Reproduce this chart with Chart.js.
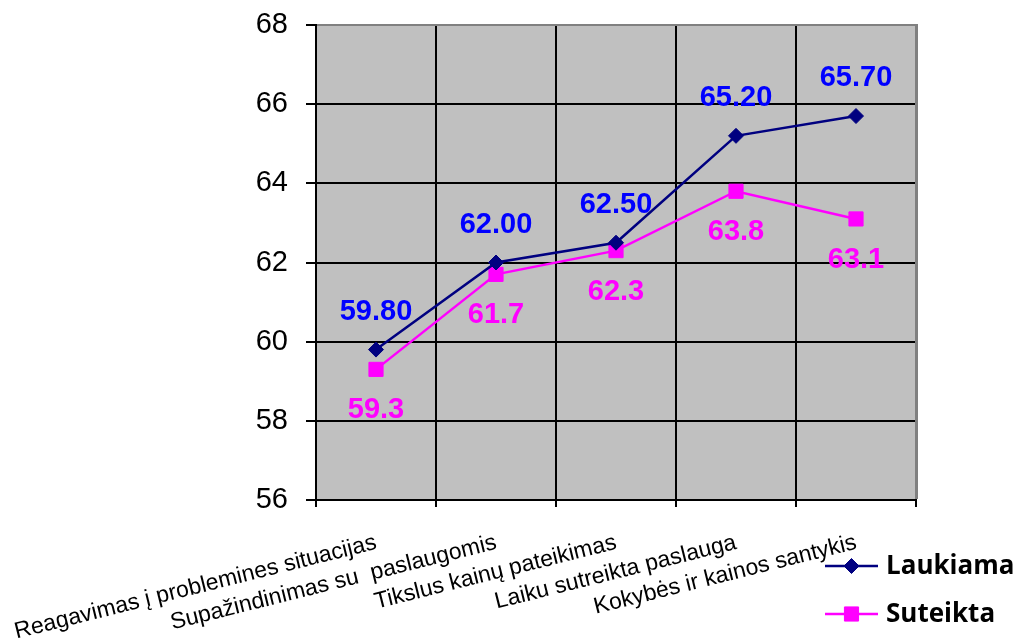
<!DOCTYPE html>
<html>
<head>
<meta charset="utf-8">
<script src="https://cdn.jsdelivr.net/npm/chart.js@4"></script>
<style>
  html, body { margin: 0; padding: 0; background: #ffffff; }
  #wrap { width: 1016px; height: 642px; position: relative; }
</style>
</head>
<body>
<div id="wrap"><canvas id="chart" width="1016" height="642"></canvas></div>
<script>
// Categories and series
const categories = [
  'Reagavimas į problemines situacijas',
  'Supažindinimas su  paslaugomis',
  'Tikslus kainų pateikimas',
  'Laiku sutreikta paslauga',
  'Kokybės ir kainos santykis'
];
const seriesNames = ['Laukiama', 'Suteikta'];
const laukiama = [59.8, 62.0, 62.5, 65.2, 65.7];
const suteikta = [59.3, 61.7, 62.3, 63.8, 63.1];
const yTicks = [56, 58, 60, 62, 64, 66, 68];

const NAVY = '#000080';
const MAGENTA = '#FF00FF';
const LABEL_BLUE = '#0000FF';

// Grey plot background
const plotBg = {
  id: 'plotBg',
  beforeDraw(chart) {
    const { ctx, chartArea: a } = chart;
    ctx.save();
    ctx.fillStyle = '#C0C0C0';
    ctx.fillRect(a.left, a.top, a.right - a.left, a.bottom - a.top);
    ctx.restore();
  }
};

// Grey top and right frame edges over the grid
const frameEdges = {
  id: 'frameEdges',
  beforeDatasetsDraw(chart) {
    const { ctx, chartArea: a } = chart;
    ctx.save();
    ctx.strokeStyle = '#808080';
    ctx.lineWidth = 2;
    ctx.beginPath();
    ctx.moveTo(a.left + 1, a.top);
    ctx.lineTo(a.right, a.top);
    ctx.stroke();
    ctx.lineWidth = 3;
    ctx.beginPath();
    ctx.moveTo(a.right + 0.5, a.top - 1);
    ctx.lineTo(a.right + 0.5, a.bottom - 1);
    ctx.stroke();
    ctx.restore();
  }
};

// Value labels: above the Laukiama points, below the Suteikta points
const valueLabels = {
  id: 'valueLabels',
  afterDatasetsDraw(chart) {
    const { ctx } = chart;
    ctx.save();
    ctx.font = 'bold 29px "Liberation Sans", Arial, sans-serif';
    ctx.textAlign = 'center';
    ctx.textBaseline = 'alphabetic';
    chart.data.datasets.forEach((ds, di) => {
      const meta = chart.getDatasetMeta(di);
      meta.data.forEach((pt, i) => {
        const v = ds.data[i];
        if (di === 0) {
          ctx.fillStyle = LABEL_BLUE;
          ctx.fillText(v.toFixed(2), pt.x, pt.y - 30);
        } else {
          ctx.fillStyle = MAGENTA;
          ctx.fillText(v.toFixed(1), pt.x, pt.y + 49);
        }
      });
    });
    ctx.restore();
  }
};

// Legend in the lower right corner
const cornerLegend = {
  id: 'cornerLegend',
  afterDraw(chart) {
    const { ctx } = chart;
    const rows = [566, 614];
    ctx.save();
    chart.data.datasets.forEach((ds, di) => {
      const y = rows[di];
      ctx.strokeStyle = ds.borderColor;
      ctx.lineWidth = 2.5;
      ctx.beginPath();
      ctx.moveTo(825, y);
      ctx.lineTo(878, y);
      ctx.stroke();
      ctx.fillStyle = ds.pointBackgroundColor;
      ctx.strokeStyle = ds.borderColor;
      ctx.lineWidth = 1;
      Chart.helpers.drawPoint(ctx, {
        pointStyle: ds.pointStyle,
        radius: ds.pointRadius,
        borderWidth: 1
      }, 851.5, y);
      ctx.fillStyle = '#000000';
      ctx.font = 'bold 26px "Open Sans", "Noto Sans", sans-serif';
      ctx.textAlign = 'left';
      ctx.textBaseline = 'middle';
      ctx.fillText(ds.label, 886, y + 1);
    });
    ctx.restore();
  }
};

new Chart(document.getElementById('chart'), {
  type: 'line',
  data: {
    labels: categories,
    datasets: [
      {
        label: seriesNames[0],
        data: laukiama,
        borderColor: NAVY,
        backgroundColor: NAVY,
        pointBackgroundColor: NAVY,
        borderWidth: 2.5,
        pointStyle: 'rectRot',
        pointRadius: 7.5,
        pointBorderWidth: 1,
        tension: 0
      },
      {
        label: seriesNames[1],
        data: suteikta,
        borderColor: MAGENTA,
        backgroundColor: MAGENTA,
        pointBackgroundColor: MAGENTA,
        borderWidth: 2.5,
        pointStyle: 'rect',
        pointRadius: 10,
        pointBorderWidth: 1,
        tension: 0
      }
    ]
  },
  options: {
    responsive: false,
    animation: false,
    layout: { padding: { top: 25, right: 100, left: 0, bottom: 0 } },
    plugins: {
      legend: { display: false },
      tooltip: { enabled: false }
    },
    scales: {
      x: {
        offset: true,
        grid: {
          offset: true,
          color: '#000000',
          lineWidth: 2,
          tickLength: 7,
          drawOnChartArea: true
        },
        border: { color: '#000000', width: 2 },
        ticks: {
          autoSkip: false,
          minRotation: 14,
          maxRotation: 14,
          padding: 22,
          color: '#000000',
          font: { family: '"Liberation Sans", Arial, sans-serif', size: 23 }
        },
        afterFit(scale) {
          scale.height = 142;
          scale.paddingLeft = 0;
          scale.paddingRight = 0;
        }
      },
      y: {
        min: yTicks[0],
        max: yTicks[yTicks.length - 1],
        afterBuildTicks(scale) { scale.ticks = yTicks.map(v => ({ value: v })); },
        grid: { color: '#000000', lineWidth: 2, tickLength: 10 },
        border: { color: '#000000', width: 2 },
        ticks: {
          padding: 18,
          color: '#000000',
          font: { family: '"Liberation Sans", Arial, sans-serif', size: 29 }
        },
        afterFit(scale) {
          scale.width = 316;
          scale.paddingTop = 0;
          scale.paddingBottom = 0;
        }
      }
    }
  },
  plugins: [plotBg, frameEdges, valueLabels, cornerLegend]
});
</script>
</body>
</html>
